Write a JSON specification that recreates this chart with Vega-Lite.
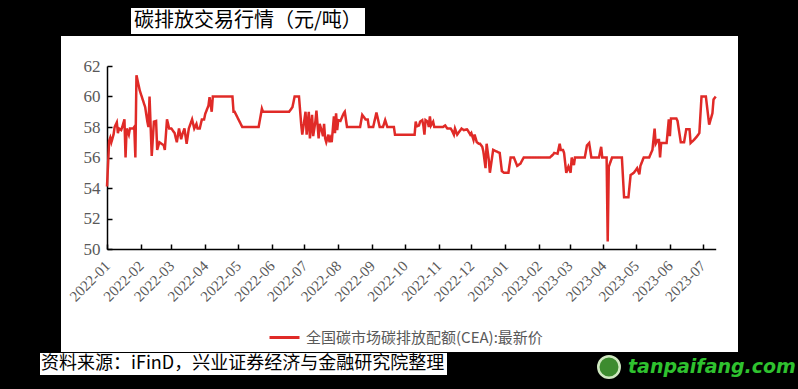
{
 "$schema": "https://vega.github.io/schema/vega-lite/v6.json",
 "width": 677,
 "height": 316,
 "autosize": {"type": "none"},
 "padding": {"left": 61, "top": 36, "right": 60, "bottom": 37},
 "background": "black",
 "view": {"fill": "white", "stroke": null},
 "data": {"values": [
  {"date":"2022-01-01","price":54.1},{"date":"2022-01-03","price":57.1},{"date":"2022-01-04","price":57.3},{"date":"2022-01-05","price":57.0},
  {"date":"2022-01-07","price":57.5},{"date":"2022-01-08","price":58.0},{"date":"2022-01-10","price":58.3},{"date":"2022-01-11","price":57.6},
  {"date":"2022-01-12","price":57.9},{"date":"2022-01-14","price":57.8},{"date":"2022-01-15","price":58.0},{"date":"2022-01-17","price":58.5},
  {"date":"2022-01-18","price":56.0},{"date":"2022-01-19","price":57.9},{"date":"2022-01-21","price":57.5},{"date":"2022-01-22","price":57.9},
  {"date":"2022-01-25","price":57.9},{"date":"2022-01-26","price":58.0},{"date":"2022-01-27","price":56.0},{"date":"2022-01-28","price":61.4},
  {"date":"2022-01-31","price":60.4},{"date":"2022-02-05","price":59.3},{"date":"2022-02-07","price":58.35},{"date":"2022-02-08","price":58.0},
  {"date":"2022-02-09","price":60.0},{"date":"2022-02-11","price":56.1},{"date":"2022-02-13","price":58.35},{"date":"2022-02-15","price":58.4},
  {"date":"2022-02-16","price":56.5},{"date":"2022-02-18","price":57.0},{"date":"2022-02-20","price":56.9},{"date":"2022-02-22","price":56.8},
  {"date":"2022-02-23","price":56.5},{"date":"2022-02-25","price":58.5},{"date":"2022-02-27","price":57.9},{"date":"2022-03-01","price":57.9},
  {"date":"2022-03-04","price":57.6},{"date":"2022-03-06","price":57.0},{"date":"2022-03-08","price":57.9},{"date":"2022-03-10","price":57.2},
  {"date":"2022-03-11","price":57.5},{"date":"2022-03-13","price":57.9},{"date":"2022-03-15","price":56.9},{"date":"2022-03-17","price":57.9},
  {"date":"2022-03-18","price":58.1},{"date":"2022-03-20","price":58.5},{"date":"2022-03-22","price":57.9},{"date":"2022-03-24","price":58.2},
  {"date":"2022-03-25","price":57.9},{"date":"2022-03-27","price":57.9},{"date":"2022-03-29","price":58.5},{"date":"2022-03-31","price":58.5},
  {"date":"2022-04-01","price":58.85},{"date":"2022-04-04","price":59.4},{"date":"2022-04-05","price":59.95},{"date":"2022-04-07","price":59.0},
  {"date":"2022-04-08","price":60.0},{"date":"2022-04-26","price":60.0},{"date":"2022-04-27","price":59.0},{"date":"2022-04-28","price":59.0},
  {"date":"2022-05-05","price":58.0},{"date":"2022-05-20","price":58.0},{"date":"2022-05-23","price":59.2},{"date":"2022-05-24","price":59.0},
  {"date":"2022-06-17","price":59.0},{"date":"2022-06-20","price":59.3},{"date":"2022-06-22","price":60.0},{"date":"2022-06-26","price":60.0},
  {"date":"2022-06-28","price":58.2},{"date":"2022-06-29","price":57.5},{"date":"2022-07-02","price":59.0},{"date":"2022-07-03","price":57.5},
  {"date":"2022-07-05","price":59.0},{"date":"2022-07-06","price":57.25},{"date":"2022-07-08","price":58.8},{"date":"2022-07-09","price":57.4},
  {"date":"2022-07-11","price":58.35},{"date":"2022-07-12","price":59.07},{"date":"2022-07-14","price":57.25},{"date":"2022-07-15","price":58.2},
  {"date":"2022-07-17","price":57.7},{"date":"2022-07-18","price":57.4},{"date":"2022-07-19","price":58.2},{"date":"2022-07-20","price":57.25},
  {"date":"2022-07-21","price":57.0},{"date":"2022-07-23","price":57.5},{"date":"2022-07-24","price":57.0},{"date":"2022-07-25","price":57.25},
  {"date":"2022-07-26","price":57.0},{"date":"2022-07-28","price":58.7},{"date":"2022-07-29","price":57.6},{"date":"2022-07-30","price":58.9},
  {"date":"2022-07-31","price":57.8},{"date":"2022-08-01","price":58.45},{"date":"2022-08-03","price":58.4},{"date":"2022-08-06","price":58.9},
  {"date":"2022-08-07","price":59.0},{"date":"2022-08-09","price":58.0},{"date":"2022-08-21","price":58.0},{"date":"2022-08-23","price":58.8},
  {"date":"2022-08-26","price":58.5},{"date":"2022-08-28","price":58.5},{"date":"2022-08-29","price":58.0},{"date":"2022-09-02","price":58.0},
  {"date":"2022-09-05","price":58.95},{"date":"2022-09-08","price":58.0},{"date":"2022-09-11","price":58.0},{"date":"2022-09-13","price":58.45},
  {"date":"2022-09-15","price":58.0},{"date":"2022-09-21","price":58.0},{"date":"2022-09-22","price":57.5},{"date":"2022-10-10","price":57.5},
  {"date":"2022-10-11","price":58.35},{"date":"2022-10-12","price":58.05},{"date":"2022-10-14","price":58.1},{"date":"2022-10-15","price":58.35},
  {"date":"2022-10-17","price":58.45},{"date":"2022-10-18","price":58.1},{"date":"2022-10-19","price":57.5},{"date":"2022-10-20","price":58.45},
  {"date":"2022-10-22","price":58.35},{"date":"2022-10-23","price":58.0},{"date":"2022-10-24","price":58.7},{"date":"2022-10-25","price":58.1},
  {"date":"2022-10-27","price":58.35},{"date":"2022-10-28","price":58.0},{"date":"2022-11-05","price":58.0},{"date":"2022-11-07","price":58.1},
  {"date":"2022-11-09","price":57.9},{"date":"2022-11-12","price":57.9},{"date":"2022-11-13","price":57.8},{"date":"2022-11-15","price":57.5},
  {"date":"2022-11-16","price":57.9},{"date":"2022-11-18","price":57.5},{"date":"2022-11-19","price":57.6},{"date":"2022-11-22","price":57.9},
  {"date":"2022-11-24","price":57.8},{"date":"2022-11-27","price":57.85},{"date":"2022-11-28","price":57.75},{"date":"2022-11-30","price":57.5},
  {"date":"2022-12-01","price":57.6},{"date":"2022-12-03","price":57.15},{"date":"2022-12-04","price":57.5},{"date":"2022-12-06","price":57.0},
  {"date":"2022-12-08","price":56.9},{"date":"2022-12-09","price":56.9},{"date":"2022-12-11","price":56.7},{"date":"2022-12-12","price":56.4},
  {"date":"2022-12-14","price":55.3},{"date":"2022-12-15","price":56.9},{"date":"2022-12-17","price":55.85},{"date":"2022-12-18","price":55.0},
  {"date":"2022-12-20","price":56.0},{"date":"2022-12-21","price":56.5},{"date":"2022-12-24","price":56.4},{"date":"2022-12-27","price":56.3},
  {"date":"2022-12-29","price":55.1},{"date":"2022-12-31","price":55.0},{"date":"2023-01-04","price":55.0},{"date":"2023-01-06","price":56.0},
  {"date":"2023-01-09","price":56.0},{"date":"2023-01-12","price":55.45},{"date":"2023-01-15","price":55.6},{"date":"2023-01-18","price":56.0},
  {"date":"2023-02-11","price":56.0},{"date":"2023-02-14","price":56.2},{"date":"2023-02-15","price":56.3},{"date":"2023-02-18","price":56.25},
  {"date":"2023-02-20","price":56.9},{"date":"2023-02-21","price":56.5},{"date":"2023-02-23","price":56.5},{"date":"2023-02-24","price":56.3},
  {"date":"2023-02-26","price":55.0},{"date":"2023-02-28","price":55.4},{"date":"2023-03-02","price":55.0},{"date":"2023-03-03","price":56.0},
  {"date":"2023-03-05","price":55.5},{"date":"2023-03-06","price":56.0},{"date":"2023-03-15","price":56.0},{"date":"2023-03-17","price":56.8},
  {"date":"2023-03-19","price":56.95},{"date":"2023-03-21","price":56.0},{"date":"2023-03-28","price":56.0},{"date":"2023-03-30","price":56.7},
  {"date":"2023-03-31","price":56.0},{"date":"2023-04-04","price":56.0},{"date":"2023-04-05","price":50.5},{"date":"2023-04-06","price":55.4},
  {"date":"2023-04-09","price":56.0},{"date":"2023-04-18","price":56.0},{"date":"2023-04-20","price":53.4},{"date":"2023-04-24","price":53.4},
  {"date":"2023-04-26","price":54.85},{"date":"2023-04-29","price":55.0},{"date":"2023-05-02","price":55.3},{"date":"2023-05-04","price":54.9},
  {"date":"2023-05-05","price":55.45},{"date":"2023-05-08","price":56.0},{"date":"2023-05-13","price":56.0},{"date":"2023-05-16","price":56.5},
  {"date":"2023-05-18","price":57.9},{"date":"2023-05-19","price":56.9},{"date":"2023-05-21","price":57.15},{"date":"2023-05-22","price":57.15},
  {"date":"2023-05-23","price":56.0},{"date":"2023-05-24","price":56.95},{"date":"2023-05-29","price":56.95},{"date":"2023-05-31","price":58.5},
  {"date":"2023-06-01","price":57.4},{"date":"2023-06-02","price":58.55},{"date":"2023-06-07","price":58.55},{"date":"2023-06-08","price":58.4},
  {"date":"2023-06-11","price":57.0},{"date":"2023-06-14","price":57.0},{"date":"2023-06-16","price":57.85},{"date":"2023-06-19","price":57.85},
  {"date":"2023-06-20","price":56.95},{"date":"2023-06-23","price":57.15},{"date":"2023-06-26","price":57.4},{"date":"2023-06-28","price":57.6},
  {"date":"2023-06-30","price":60.0},{"date":"2023-07-04","price":60.0},{"date":"2023-07-07","price":58.15},{"date":"2023-07-10","price":58.9},
  {"date":"2023-07-11","price":59.8},{"date":"2023-07-13","price":60.0}
 ]},
 "mark": {"type": "line", "interpolate": "linear"},
 "encoding": {
  "x": {
   "field": "date", "type": "temporal",
   "scale": {"type": "utc", "nice": false, "range": [46, 654.7]},
   "axis": {
    "orient": "bottom", "offset": -103, "format": "%Y-%m",
    "tickCount": {"interval": "month", "step": 1},
    "labelAngle": -45, "labelAlign": "right", "labelBaseline": "middle",
    "labelPadding": 19, "labelFont": "Liberation Serif", "labelFontSize": 15,
    "labelColor": "#595959", "labelOverlap": false, "labelFlush": false,
    "tickSize": -5, "tickColor": "black", "tickWidth": 1.5,
    "domainColor": "black", "domainWidth": 1.5, "grid": false, "title": null
   }
  },
  "y": {
   "field": "price", "type": "quantitative",
   "scale": {"domain": [50, 62], "range": [213, 30], "nice": false, "zero": false},
   "axis": {
    "orient": "left", "offset": -46, "values": [50, 52, 54, 56, 58, 60, 62],
    "tickSize": -5, "tickColor": "black", "tickWidth": 1.5,
    "labelPadding": 12, "labelFont": "Liberation Serif", "labelFontSize": 17,
    "labelColor": "#595959", "domainColor": "black", "domainWidth": 1.5,
    "grid": false, "title": null
   }
  },
  "color": {
   "datum": "全国碳市场碳排放配额(CEA):最新价", "type": "nominal",
   "scale": {"range": ["#e02a27"]},
   "legend": {
    "title": null, "orient": "none", "legendX": 207, "legendY": 285,
    "symbolType": "stroke", "symbolSize": 900, "symbolStrokeWidth": 3,
    "labelFont": "Noto Sans CJK SC", "labelFontSize": 15, "labelColor": "#595959",
    "labelLimit": 500, "labelOffset": 5, "padding": 0
   }
  },
  "strokeDash": {
   "datum": "碳排放交易行情（元/吨）", "type": "nominal",
   "scale": {"range": [[1, 0]]},
   "legend": {
    "title": null, "orient": "none", "legendX": 70, "legendY": -28,
    "fillColor": "white", "padding": 3, "symbolSize": 0, "symbolOpacity": 0,
    "labelOffset": -20, "labelFont": "Noto Sans CJK SC", "labelFontSize": 20,
    "labelColor": "black", "labelLimit": 500
   }
  },
  "opacity": {
   "datum": "资料来源：iFinD，兴业证券经济与金融研究院整理", "type": "ordinal",
   "scale": {"range": [1, 1]},
   "legend": {
    "title": null, "orient": "none", "legendX": -21, "legendY": 317,
    "fillColor": "white", "padding": 2, "symbolSize": 0, "symbolOpacity": 0,
    "labelOffset": -19, "labelFont": "Noto Sans CJK SC", "labelFontSize": 18,
    "labelColor": "black", "labelLimit": 600
   }
  },
  "strokeWidth": {
   "datum": "tanpaifang.com", "type": "ordinal",
   "scale": {"range": [2.5, 2.5]},
   "legend": {
    "title": null, "orient": "none", "legendX": 536, "legendY": 319,
    "symbolType": "circle", "symbolSize": 460, "symbolFillColor": "#3d8c2f",
    "symbolStrokeColor": "#cfe8c0", "labelOffset": 7,
    "labelFont": "DejaVu Sans", "labelFontSize": 19, "labelFontWeight": "bold",
    "labelFontStyle": "italic", "labelColor": "#2fc22f", "labelLimit": 500,
    "encode": {"symbols": {"update": {"fill": {"value": "#3d8c2f"}, "stroke": {"value": "#cfe8c0"}, "strokeWidth": {"value": 1.5}, "shape": {"value": "circle"}, "opacity": {"value": 1}}}}
   }
  }
 }
}
